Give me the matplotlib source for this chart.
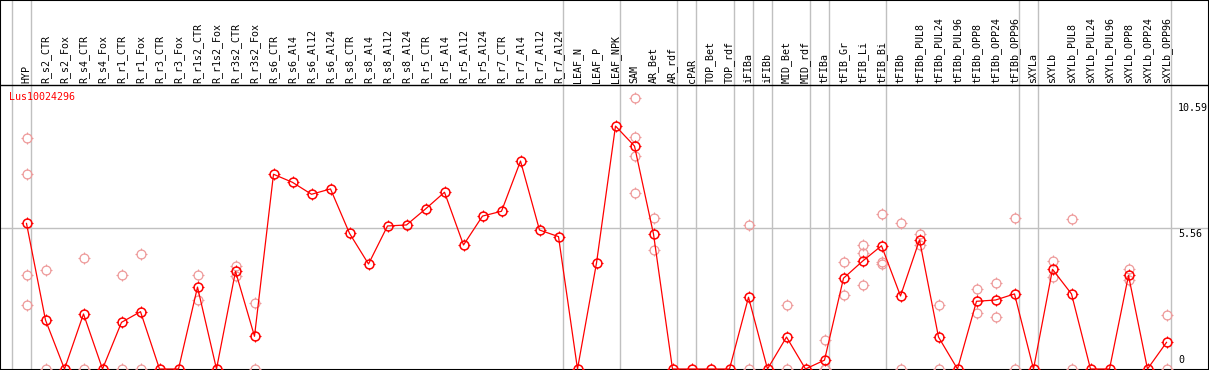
import matplotlib
matplotlib.use("Agg")
import matplotlib.pyplot as plt
from matplotlib.path import Path

# column labels across the top
labels = ["HYP", "R_s2_CTR", "R_s2_Fox", "R_s4_CTR", "R_s4_Fox", "R_r1_CTR", "R_r1_Fox",
          "R_r3_CTR", "R_r3_Fox", "R_r1s2_CTR", "R_r1s2_Fox", "R_r3s2_CTR", "R_r3s2_Fox",
          "R_s6_CTR", "R_s6_Al4", "R_s6_Al12", "R_s6_Al24", "R_s8_CTR", "R_s8_Al4",
          "R_s8_Al12", "R_s8_Al24", "R_r5_CTR", "R_r5_Al4", "R_r5_Al12", "R_r5_Al24",
          "R_r7_CTR", "R_r7_Al4", "R_r7_Al12", "R_r7_Al24", "LEAF_N", "LEAF_P", "LEAF_NPK",
          "SAM", "AR_Bet", "AR_rdf", "cPAR", "TOP_Bet", "TOP_rdf", "iFIBa", "iFIBb",
          "MID_Bet", "MID_rdf", "tFIBa", "tFIB_Gr", "tFIB_Li", "tFIB_Bi", "tFIBb",
          "tFIBb_PUL8", "tFIBb_PUL24", "tFIBb_PUL96", "tFIBb_OPP8", "tFIBb_OPP24",
          "tFIBb_OPP96", "sXYLa", "sXYLb", "sXYLb_PUL8", "sXYLb_PUL24", "sXYLb_PUL96",
          "sXYLb_OPP8", "sXYLb_OPP24", "sXYLb_OPP96"]

# mean expression per column
means = [5.74, 1.93, 0, 2.17, 0, 1.84, 2.26, 0, 0, 3.23, 0, 3.85, 1.29,
         7.68, 7.36, 6.89, 7.10, 5.35, 4.14, 5.64, 5.68, 6.31, 6.97, 4.89, 6.03,
         6.22, 8.20, 5.48, 5.22, 0, 4.18, 9.58,
         8.79, 5.32, 0, 0, 0, 0, 2.83, 0, 1.26, 0, 0.35, 3.58, 4.25, 4.86, 2.88,
         5.09, 1.26, 0, 2.67, 2.72, 2.96, 0, 3.93, 2.96, 0, 0, 3.69, 0, 1.05]

# individual replicates per column
reps = [[9.10, 7.68, 3.69, 2.52], [3.89, 0], [], [4.36, 0], [], [3.69, 0], [4.52, 0],
        [], [], [3.69, 2.72], [], [4.06, 3.67], [2.60, 0],
        [], [], [], [], [], [], [], [], [], [], [], [],
        [], [], [], [], [], [], [],
        [10.67, 9.14, 8.40, 6.93], [5.94, 4.68], [], [], [], [], [5.67, 0], [],
        [2.52, 0], [], [1.14, 0, 0], [4.23, 2.92], [4.89, 4.56, 3.31],
        [6.10, 4.23, 4.15], [5.74, 0],
        [5.32, 4.89], [2.52, 0], [], [3.14, 2.20], [3.38, 2.06], [5.94, 0], [],
        [4.25, 3.62], [5.90, 0], [], [], [3.94, 3.51], [], [2.12, 0]]

# group separators come after these columns
group_ends = [-1, 0, 28, 31, 34, 35, 37, 38, 39, 41, 42, 45, 52, 53, 60]

yticks = [0, 5.56, 10.59]
title = "Lus10024296"

W, H = 1209, 370
X0, DX = 26.5, 19.0     # pixel x of first column, column step
Y0, DY = 369.0, 25.36   # pixel y of zero, pixels per unit


def px_x(p):
    return (p - X0) / DX


def px_y(p):
    return (Y0 - p) / DY


# four little nubs sticking out of the circle
NUB = 1.25
nubs = Path([(0, 1), (0, NUB), (0, -1), (0, -NUB), (1, 0), (NUB, 0), (-1, 0), (-NUB, 0)],
            [Path.MOVETO, Path.LINETO] * 4)
CS = 6.4   # circle diameter in points


def circles(x, y, color, lw, z):
    ax.plot(x, y, linestyle="none", marker="o", markersize=CS,
            markerfacecolor="none", markeredgecolor=color, mew=lw, zorder=z)
    ax.plot(x, y, linestyle="none", marker=nubs, markersize=CS * NUB,
            markerfacecolor="none", markeredgecolor=color, mew=0.8, zorder=z)


fig = plt.figure(figsize=(W / 100, H / 100), dpi=100)
ax = fig.add_axes([0, 0, 1, 1])
ax.set_xlim(px_x(0), px_x(W))
ax.set_ylim(px_y(H), px_y(0))
ax.set_xticks([])
ax.set_yticks([])
for s in ax.spines.values():
    s.set_color("black")
    s.set_linewidth(1.5)

mono = "DejaVu Sans Mono"
fs = 7.2

for g in group_ends:
    ax.axvline(g + 4 / DX, color="#c0c0c0", lw=1.0, zorder=1)
ax.axhline(5.56, color="#c0c0c0", lw=1.0, zorder=1)
ax.axhline(px_y(85), color="black", lw=1.0, zorder=2)

for i, lab in enumerate(labels):
    ax.text(i, px_y(83), lab, rotation=90, ha="center", va="bottom",
            family=mono, fontsize=fs, color="black")

for i, r in enumerate(reps):
    if r:
        circles([i] * len(r), r, "#ee9a9a", 0.9, 3)

xs = list(range(len(means)))
ax.plot(xs, means, color="red", lw=0.9, zorder=4)
circles(xs, means, "red", 1.1, 5)

lx = px_x(1178)
ax.text(lx, yticks[2] - 0.1, "10.59", ha="left", va="top", family=mono, fontsize=fs)
ax.text(lx, yticks[1] - 0.05, "5.56", ha="left", va="top", family=mono, fontsize=fs)
ax.text(lx, yticks[0] + 0.15, "0", ha="left", va="bottom", family=mono, fontsize=fs)

ax.text(px_x(9), px_y(97), title, ha="left", va="center", family=mono,
        fontsize=fs, color="red")

fig.savefig("out.png", dpi=100)
